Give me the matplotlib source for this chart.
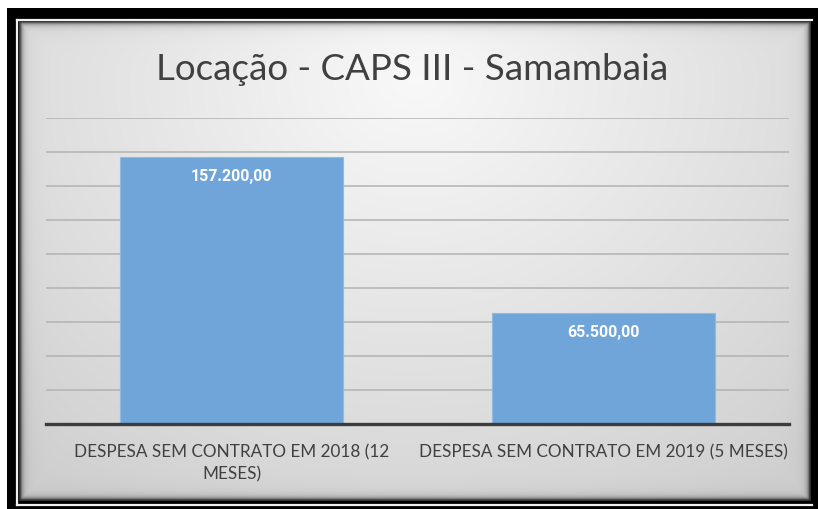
import matplotlib
matplotlib.use("Agg")
import matplotlib.pyplot as plt
import matplotlib.patches as mpatches
import numpy as np

categories = ["DESPESA SEM CONTRATO EM 2018 (12\nMESES)",
              "DESPESA SEM CONTRATO EM 2019 (5 MESES)"]
values = [157200.00, 65500.00]
value_labels = ["157.200,00", "65.500,00"]
title = "Locação - CAPS III - Samambaia"

FONT = ["Lato", "DejaVu Sans"]
FONT_BOLD = ["Roboto", "DejaVu Sans"]
BAR = "#6fa5d8"
GRID = "#b2b2b2"
AXIS = "#3c3c3c"
TEXT = "#404040"

W, H = 818, 509
fig = plt.figure(figsize=(W / 100, H / 100), dpi=100)
fig.patch.set_facecolor("white")

# background: black frame, thin white inner line, gray panel with soft gradient
bg = fig.add_axes([0, 0, 1, 1])
bg.add_patch(mpatches.Rectangle((7, 8), 811, 501, facecolor="black",
                                edgecolor="none", zorder=1))
bg.plot([16.5, 16.5], [19.5, 504.5], color="#f0f0f0", lw=1.6, zorder=1.5)
bg.plot([16.5, 812], [19.5, 19.5], color="#f0f0f0", lw=1.6, zorder=1.5)
bg.plot([16.5, 812], [504.5, 504.5], color="#f0f0f0", lw=1.6, zorder=1.5)
x0, x1, y0, y1 = 19, 811, 21, 501
xx, yy = np.meshgrid(np.linspace(0, 1, 400), np.linspace(0, 1, 250))
d = np.sqrt(((xx - 0.5) / 0.75) ** 2 + ((yy - 0.12) / 1.05) ** 2)
shade = 0.975 - 0.16 * np.clip(d, 0, 1)
# darker bevel near panel edges
ex = np.minimum(xx, 1 - xx) * (x1 - x0)
ey = np.minimum(yy, 1 - yy) * (y1 - y0)
edge = np.minimum(ex, ey)
shade = shade - 0.55 * np.exp(-edge / 2.0) - 0.08 * np.exp(-edge / 8.0)
shade = np.clip(shade, 0, 1)
img = np.dstack([shade, shade, shade])
bg.imshow(img, extent=(x0, x1, y1, y0), aspect="auto", interpolation="bilinear",
          zorder=2)
bg.set_xlim(0, W)
bg.set_ylim(H, 0)
bg.axis("off")

ax = fig.add_axes([46 / W, 1 - 424 / H, 743 / W, (424 - 118) / H])
ax.patch.set_alpha(0)
x = np.arange(len(categories))
ax.bar(x, values, width=0.6, color=BAR, edgecolor="#8dbbe6", linewidth=0.8, zorder=3)
ax.set_xlim(-0.5, 1.5)
ax.set_ylim(0, 180000)
ax.set_yticks(np.arange(20000, 180001, 20000))
ax.yaxis.grid(True, color=GRID, linewidth=1.1)
ax.set_axisbelow(True)
ax.tick_params(axis="y", left=False, labelleft=False)
ax.tick_params(axis="x", bottom=False, pad=11)
ax.set_xticks(x)
ax.set_xticklabels(categories, fontsize=12.3, color=TEXT, family=FONT, linespacing=1.45)
for s in ["top", "right", "left"]:
    ax.spines[s].set_visible(False)
ax.spines["bottom"].set_color(AXIS)
ax.spines["bottom"].set_linewidth(2.4)
ax.spines["bottom"].set_zorder(4)

for xi, v, lab in zip(x, values, value_labels):
    ax.annotate(lab, (xi, v), xytext=(0, -14.5), textcoords="offset points",
                ha="center", va="center", color="white", fontsize=11.5,
                fontweight="bold", family=FONT_BOLD, zorder=5)

fig.text(412 / W, 1 - 80 / H, title, ha="center", va="baseline", fontsize=26.5,
         color=TEXT, family=FONT)

fig.savefig("out.png", dpi=100)
